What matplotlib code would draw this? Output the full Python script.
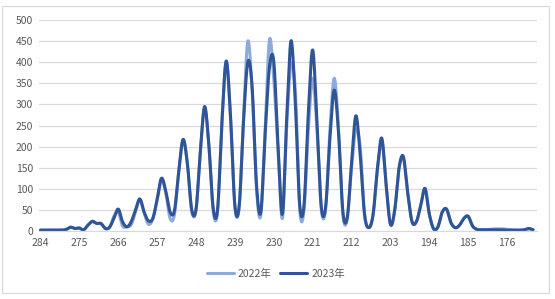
import numpy as np
import matplotlib.pyplot as plt
from matplotlib.patches import Rectangle

plt.rcParams['font.family'] = ['Noto Sans CJK SC', 'DejaVu Sans']

# scores 284 .. 170
scores = list(range(284, 169, -1))

y2023 = [2, 2, 2, 2, 2, 2, 4, 9, 6, 7,            # 284-275
         3, 14, 23, 18, 18, 6, 9, 30, 52, 22,      # 274-265
         10, 22, 50, 76, 45, 24, 30, 75, 125, 95,  # 264-255
         45, 48, 140, 217, 160, 51, 51, 190, 295, 200,   # 254-245
         52, 52, 260, 403, 270, 60, 60, 260, 401, 340,   # 244-235
         110, 45, 230, 388, 402, 200, 40, 270, 451, 300,  # 234-225
         62, 62, 280, 429, 260, 57, 57, 220, 334, 230,   # 224-215
         45, 32, 160, 273, 180, 40, 8, 40, 150, 220,     # 214-205
         110, 16, 50, 150, 176, 90, 22, 22, 60, 101,     # 204-195
         40, 5, 10, 45, 52, 20, 8, 14, 30, 35,           # 194-185
         12, 4, 3, 3, 3, 3, 3, 3, 2, 2,                  # 184-175
         2, 2, 3, 6, 3]                                  # 174-170

y2022 = [2, 2, 2, 2, 2, 2, 4, 9, 6, 7,
         3, 14, 22, 18, 17, 6, 9, 35, 45, 12,
         10, 15, 45, 74, 42, 16, 28, 72, 122, 90,
         30, 38, 140, 215, 160, 48, 50, 185, 290, 200,
         45, 48, 255, 400, 265, 58, 58, 270, 450, 330,
         100, 38, 240, 453, 360, 190, 30, 250, 395, 330,
         52, 50, 240, 362, 240, 52, 52, 240, 362, 240,
         40, 28, 150, 240, 200, 40, 8, 40, 145, 215,
         110, 16, 50, 148, 172, 90, 22, 22, 60, 100,
         40, 5, 10, 45, 50, 20, 8, 14, 30, 34,
         12, 4, 3, 3, 4, 5, 5, 5, 4, 3,
         2, 2, 3, 5, 3]

xticks = scores[::9]


def smooth(x, y, n=16):
    # bezier smoothing like a spreadsheet "smoothed line"
    x = np.asarray(x, float)
    y = np.asarray(y, float)
    px = np.concatenate([[x[0]], x, [x[-1]]])
    py = np.concatenate([[y[0]], y, [y[-1]]])
    t = np.linspace(0, 1, n, endpoint=False)[:, None]
    xs, ys = [], []
    for i in range(1, len(px) - 2):
        p0 = np.array([px[i - 1], py[i - 1]])
        p1 = np.array([px[i], py[i]])
        p2 = np.array([px[i + 1], py[i + 1]])
        p3 = np.array([px[i + 2], py[i + 2]])
        c1 = p1 + (p2 - p0) / 6
        c2 = p2 - (p3 - p1) / 6
        b = ((1 - t) ** 3) * p1 + 3 * ((1 - t) ** 2) * t * c1 \
            + 3 * (1 - t) * t ** 2 * c2 + t ** 3 * p2
        xs.append(b[:, 0])
        ys.append(b[:, 1])
    xs.append([x[-1]])
    ys.append([y[-1]])
    return np.concatenate(xs), np.concatenate(ys)


fig = plt.figure(figsize=(5.55, 2.99), dpi=100)
ax = fig.add_axes([0.0694, 0.2274, 0.8976, 0.7057])

x1, s1 = smooth(scores, y2022)
x2, s2 = smooth(scores, y2023)
ax.plot(x1, s1, color='#8EA9DB', lw=2.2, label='2022年', solid_capstyle='round')
ax.plot(x2, s2, color='#2F5597', lw=2.2, label='2023年', solid_capstyle='round')

ax.set_xlim(284.45, 169.15)
ax.set_ylim(0, 500)
ax.set_yticks(range(0, 501, 50))
ax.set_xticks(xticks)
ax.set_xticklabels([str(v) for v in xticks])
ax.grid(axis='y', color='#D9D9D9', lw=0.9)
ax.set_axisbelow(True)
for s in ['top', 'right', 'left']:
    ax.spines[s].set_visible(False)
ax.spines['bottom'].set_color('#D9D9D9')
ax.tick_params(length=0, colors='#595959', labelsize=7.5)
ax.tick_params(axis='y', pad=4)
ax.tick_params(axis='x', pad=5)

fig.legend(loc='center', bbox_to_anchor=(0.497, 0.084), ncol=2, frameon=False,
           fontsize=7.5, labelcolor='#595959', handlelength=2.6,
           columnspacing=0.8, handletextpad=0.4)

fig.patches.append(Rectangle((2 / 555, 6 / 299), 547 / 555, 287 / 299,
                             transform=fig.transFigure, fill=False,
                             edgecolor='#D9D9D9', lw=0.9))

fig.savefig('out.png', dpi=100)
